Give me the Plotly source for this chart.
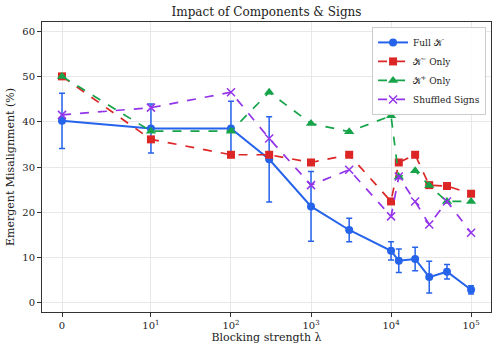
import numpy as np
import plotly.graph_objects as go

# Data
lambdas = [0, 10, 100, 300, 1000, 3000, 10000, 12500, 20000, 30000, 50000, 100000]
full_k = [40.2, 38.5, 38.5, 31.7, 21.3, 16.1, 11.5, 9.3, 9.7, 5.7, 6.9, 2.9]
full_k_err = [6.1, 5.4, 6.0, 9.4, 7.7, 2.6, 2.0, 2.6, 2.6, 3.5, 1.6, 0.9]
k_minus = [50.0, 36.1, 32.7, 32.7, 31.0, 32.7, 22.4, 31.0, 32.7, 26.0, 25.8, 24.1]
k_plus = [50.0, 37.9, 37.9, 46.5, 39.6, 37.8, 41.3, 27.8, 29.2, 25.9, 22.4, 22.4]
shuffled = [41.5, 43.1, 46.5, 36.3, 26.0, 29.4, 19.1, 27.9, 22.4, 17.3, 22.4, 15.5]

tick_vals = [0, 10, 100, 1000, 10000, 100000]
tick_text = ['0', '10<sup>1</sup>', '10<sup>2</sup>', '10<sup>3</sup>', '10<sup>4</sup>', '10<sup>5</sup>']

# symlog scale, linthresh=10, linscale=1 (like matplotlib)
LINTHRESH = 10.0
LINSCALE = 1.0 / (1 - 1 / 10.0)


def symlog(v):
    v = np.asarray(v, dtype=float)
    out = np.where(np.abs(v) <= LINTHRESH,
                   v / LINTHRESH * LINSCALE,
                   np.sign(v) * (LINSCALE + np.log10(np.maximum(np.abs(v), 1e-12) / LINTHRESH)))
    return out


xs = symlog(lambdas)
FONT = 'DejaVu Serif'

fig = go.Figure()

fig.add_trace(go.Scatter(
    x=xs, y=full_k, name='Full 𝒦', mode='lines+markers',
    line=dict(color='#2563eb', width=2),
    marker=dict(symbol='circle', size=8, color='#2563eb'),
    error_y=dict(type='data', array=full_k_err, color='#2563eb', thickness=1.5, width=3),
))

fig.add_trace(go.Scatter(
    x=xs, y=k_minus, name='𝒦<sup>−</sup> Only', mode='lines+markers',
    line=dict(color='#dc2626', width=1.7, dash='dash'),
    marker=dict(symbol='square', size=8, color='#dc2626'),
))

fig.add_trace(go.Scatter(
    x=xs, y=k_plus, name='𝒦<sup>+</sup> Only', mode='lines+markers',
    line=dict(color='#16a34a', width=1.7, dash='dash'),
    marker=dict(symbol='triangle-up', size=9, color='#16a34a'),
))

fig.add_trace(go.Scatter(
    x=xs, y=shuffled, name='Shuffled Signs', mode='lines+markers',
    line=dict(color='#9333ea', width=1.7, dash='dash'),
    marker=dict(symbol='x-thin', size=8, line=dict(color='#9333ea', width=1.5)),
))

fig.update_layout(
    width=498, height=352,
    margin=dict(l=42, r=7, t=22, b=40),
    paper_bgcolor='white', plot_bgcolor='white',
    font=dict(family=FONT, size=10, color='#222'),
    title=dict(text='Impact of Components & Signs', x=0.5, xref='paper', xanchor='center',
               y=0.978, yanchor='top', font=dict(family=FONT, size=12)),
    xaxis=dict(
        title=dict(text='Blocking strength λ', font=dict(family=FONT, size=11), standoff=3),
        range=[-0.25, 5.36], tickvals=symlog(tick_vals), ticktext=tick_text,
        showgrid=True, gridcolor='#e8e8e8', gridwidth=1,
        showline=True, linecolor='#333', linewidth=1, mirror=True,
        ticks='outside', ticklen=4, tickcolor='#333', zeroline=False,
        automargin=False,
    ),
    yaxis=dict(
        title=dict(text='Emergent Misalignment (%)', font=dict(family=FONT, size=11), standoff=5),
        range=[-2, 62], tickvals=[0, 10, 20, 30, 40, 50, 60],
        showgrid=True, gridcolor='#e8e8e8', gridwidth=1,
        showline=True, linecolor='#333', linewidth=1, mirror=True,
        ticks='outside', ticklen=4, tickcolor='#333', zeroline=False,
        automargin=False,
    ),
    legend=dict(
        x=0.989, y=0.983, xanchor='right', yanchor='top',
        bgcolor='rgba(255,255,255,0.9)', bordercolor='#ccc', borderwidth=1,
        font=dict(family=FONT, size=9), tracegroupgap=0, itemwidth=30,
    ),
)

# page body has a default 8px margin; remove it so the figure sits at the corner
fig.write_html("out.html", config={'displayModeBar': False},
               post_script="document.body.style.margin='0';")
